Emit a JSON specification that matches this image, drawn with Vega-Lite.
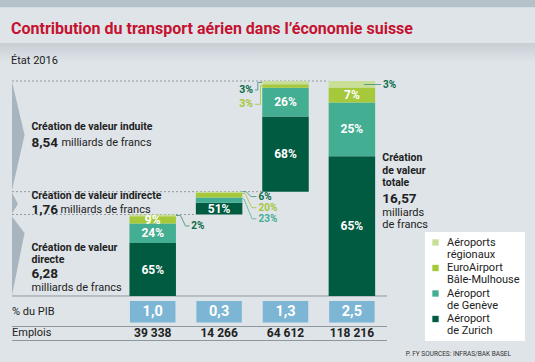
{
"$schema":"https://vega.github.io/schema/vega-lite/v6.json",
"width":535,"height":362,"padding":0,"autosize":{"type":"none"},
"background":"#dfe4e8",
"config":{"view":{"stroke":null},"font":"Liberation Sans Narrow, Roboto, sans-serif","style":{"guide-label":{"lineHeight":12}}},
"title":{"text":"Contribution du transport aérien dans l’économie suisse","subtitle":"État 2016","anchor":"start","frame":"group","orient":"top","offset":-66,"dx":11,"font":"Liberation Sans Narrow, Roboto, sans-serif","fontSize":16,"fontWeight":"bold","color":"#c51230","subtitleFont":"Liberation Sans Narrow, Roboto, sans-serif","subtitleFontSize":11,"subtitleColor":"#222222","subtitlePadding":18},
"datasets":{
"seg":[
{"col":1,"airport":"Aéroport de Zurich","pct":65,"start":0,"end":4.082},
{"col":1,"airport":"Aéroport de Genève","pct":24,"start":4.082,"end":5.589},
{"col":1,"airport":"EuroAirport Bâle-Mulhouse","pct":9,"start":5.589,"end":6.154},
{"col":1,"airport":"Aéroports régionaux","pct":2,"start":6.154,"end":6.28},
{"col":2,"airport":"Aéroport de Zurich","pct":51,"start":6.28,"end":7.178},
{"col":2,"airport":"Aéroport de Genève","pct":23,"start":7.178,"end":7.583},
{"col":2,"airport":"EuroAirport Bâle-Mulhouse","pct":20,"start":7.583,"end":7.935},
{"col":2,"airport":"Aéroports régionaux","pct":6,"start":7.935,"end":8.04},
{"col":3,"airport":"Aéroport de Zurich","pct":68,"start":8.03,"end":13.837},
{"col":3,"airport":"Aéroport de Genève","pct":26,"start":13.837,"end":16.057},
{"col":3,"airport":"EuroAirport Bâle-Mulhouse","pct":3,"start":16.057,"end":16.313},
{"col":3,"airport":"Aéroports régionaux","pct":3,"start":16.313,"end":16.57},
{"col":4,"airport":"Aéroport de Zurich","pct":65,"start":0,"end":10.771},
{"col":4,"airport":"Aéroport de Genève","pct":25,"start":10.771,"end":14.913},
{"col":4,"airport":"EuroAirport Bâle-Mulhouse","pct":7,"start":14.913,"end":16.073},
{"col":4,"airport":"Aéroports régionaux","pct":3,"start":16.073,"end":16.57}
],
"outl":[
{"col":1,"airport":"Aéroports régionaux","text":"2%","lx":1.58,"ly":5.395},
{"col":2,"airport":"Aéroports régionaux","text":"6%","lx":2.593,"ly":7.661},
{"col":2,"airport":"EuroAirport Bâle-Mulhouse","text":"20%","lx":2.593,"ly":6.805},
{"col":2,"airport":"Aéroport de Genève","text":"23%","lx":2.593,"ly":5.95},
{"col":3,"airport":"Aéroports régionaux","text":"3%","lx":2.51,"ly":15.877},
{"col":3,"airport":"EuroAirport Bâle-Mulhouse","text":"3%","lx":2.51,"ly":14.774},
{"col":4,"airport":"Aéroports régionaux","text":"3%","lx":4.468,"ly":16.3}
],
"conn":[
{"id":"c1","airport":"Aéroports régionaux","ord":0,"x":1.351,"y":6.204},
{"id":"c1","airport":"Aéroports régionaux","ord":1,"x":1.4187,"y":6.204},
{"id":"c1","airport":"Aéroports régionaux","ord":2,"x":1.494,"y":5.395},
{"id":"c1","airport":"Aéroports régionaux","ord":3,"x":1.554,"y":5.395},
{"id":"c2r","airport":"Aéroports régionaux","ord":0,"x":2.349,"y":8.046},
{"id":"c2r","airport":"Aéroports régionaux","ord":1,"x":2.405,"y":8.046},
{"id":"c2r","airport":"Aéroports régionaux","ord":2,"x":2.48,"y":7.661},
{"id":"c2r","airport":"Aéroports régionaux","ord":3,"x":2.563,"y":7.661},
{"id":"c2e","airport":"EuroAirport Bâle-Mulhouse","ord":0,"x":2.349,"y":7.9},
{"id":"c2e","airport":"EuroAirport Bâle-Mulhouse","ord":1,"x":2.39,"y":7.9},
{"id":"c2e","airport":"EuroAirport Bâle-Mulhouse","ord":2,"x":2.4955,"y":6.805},
{"id":"c2e","airport":"EuroAirport Bâle-Mulhouse","ord":3,"x":2.563,"y":6.805},
{"id":"c2g","airport":"Aéroport de Genève","ord":0,"x":2.349,"y":7.476},
{"id":"c2g","airport":"Aéroport de Genève","ord":1,"x":2.375,"y":7.476},
{"id":"c2g","airport":"Aéroport de Genève","ord":2,"x":2.4955,"y":5.95},
{"id":"c2g","airport":"Aéroport de Genève","ord":3,"x":2.563,"y":5.95},
{"id":"c3r","airport":"Aéroports régionaux","ord":0,"x":2.646,"y":16.455},
{"id":"c3r","airport":"Aéroports régionaux","ord":1,"x":2.583,"y":16.455},
{"id":"c3r","airport":"Aéroports régionaux","ord":2,"x":2.583,"y":15.877},
{"id":"c3r","airport":"Aéroports régionaux","ord":3,"x":2.5407,"y":15.877},
{"id":"c3e","airport":"EuroAirport Bâle-Mulhouse","ord":0,"x":2.646,"y":16.224},
{"id":"c3e","airport":"EuroAirport Bâle-Mulhouse","ord":1,"x":2.6235,"y":16.224},
{"id":"c3e","airport":"EuroAirport Bâle-Mulhouse","ord":2,"x":2.6235,"y":14.774},
{"id":"c3e","airport":"EuroAirport Bâle-Mulhouse","ord":3,"x":2.5407,"y":14.774},
{"id":"c4r","airport":"Aéroports régionaux","ord":0,"x":4.182,"y":16.3},
{"id":"c4r","airport":"Aéroports régionaux","ord":1,"x":4.438,"y":16.3}
],
"wedge":[
{"part":"induite","x":-1.119,"y":16.53},
{"part":"induite","x":-0.93,"y":12.41},
{"part":"induite","x":-1.119,"y":8.13},
{"part":"indirecte","x":-1.119,"y":7.98},
{"part":"indirecte","x":-1.03,"y":7.09},
{"part":"indirecte","x":-1.119,"y":6.36},
{"part":"directe","x":-1.119,"y":6.13},
{"part":"directe","x":-0.93,"y":4.86},
{"part":"directe","x":-1.119,"y":0.05}
],
"guides":[
{"y":16.57,"x":-1.119,"x2":3.645},
{"y":8.04,"x":-1.119,"x2":2.651},
{"y":6.28,"x":-1.119,"x2":1.652}
],
"table":[
{"col":1,"pib":"1,0","emplois":"39 338"},
{"col":2,"pib":"0,3","emplois":"14 266"},
{"col":3,"pib":"1,3","emplois":"64 612"},
{"col":4,"pib":"2,5","emplois":"118 216"}
],
"heads":[
{"x":-0.8253,"y":13.06,"t":"Création de valeur induite"},
{"x":-0.8253,"y":7.707,"t":"Création de valeur indirecte"},
{"x":-0.8253,"y":3.7,"t":"Création de valeur\ndirecte"},
{"x":4.458,"y":10.598,"t":"Création\nde valeur\ntotale"}
],
"nums":[
{"x":-0.8253,"y":11.83,"t":"8,54"},
{"x":-0.8253,"y":6.628,"t":"1,76"},
{"x":-0.8253,"y":1.672,"t":"6,28"},
{"x":4.458,"y":7.476,"t":"16,57"}
],
"units":[
{"x":-0.375,"y":11.83,"t":"milliards de francs"},
{"x":-0.39,"y":6.628,"t":"milliards de francs"},
{"x":-0.8253,"y":0.593,"t":"milliards de francs"},
{"x":4.458,"y":6.42,"t":"milliards\nde francs"}
]
},
"layer":[
{"data":{"values":[{}]},"mark":{"type":"rect","color":"#b5c1c9"},
 "encoding":{"x":{"datum":-1.2997,"type":"quantitative","scale":{"domain":[-1.2997,6.7575],"nice":false,"zero":false,"padding":0},"axis":null},"x2":{"datum":6.7575},
 "y":{"datum":22.813,"type":"quantitative","scale":{"domain":[-5.087,22.813],"nice":false,"zero":false,"padding":0},"axis":null},"y2":{"datum":22.25}}},
{"data":{"values":[{}]},"mark":{"type":"rect","fill":{"gradient":"linear","x1":0,"y1":0,"x2":0,"y2":1,"stops":[{"offset":0,"color":"#c7cfd5"},{"offset":1,"color":"#dfe4e8"}]}},
 "encoding":{"x":{"datum":-1.2997,"type":"quantitative","scale":{"domain":[-1.2997,6.7575],"nice":false,"zero":false,"padding":0},"axis":null},"x2":{"datum":6.7575},
 "y":{"datum":19.5,"type":"quantitative","scale":{"domain":[-5.087,22.813],"nice":false,"zero":false,"padding":0},"axis":null},"y2":{"datum":18.0}}},
{"data":{"name":"wedge"},"mark":{"type":"area","orient":"horizontal","color":"#a9b5be"},
 "encoding":{"x":{"field":"x","type":"quantitative","scale":{"domain":[-1.2997,6.7575],"nice":false,"zero":false,"padding":0},"axis":null},"x2":{"datum":-1.119},
 "y":{"field":"y","type":"quantitative","scale":{"domain":[-5.087,22.813],"nice":false,"zero":false,"padding":0},"axis":null},"detail":{"field":"part"}}},
{"data":{"name":"guides"},"mark":{"type":"rule","color":"#7b8790","strokeWidth":0.8,"strokeDash":[2,2]},
 "encoding":{"x":{"field":"x","type":"quantitative","scale":{"domain":[-1.2997,6.7575],"nice":false,"zero":false,"padding":0},"axis":null},"x2":{"field":"x2"},
 "y":{"field":"y","type":"quantitative","scale":{"domain":[-5.087,22.813],"nice":false,"zero":false,"padding":0},"axis":null}}},
{"data":{"values":[{"y":0},{"y":-2.351},{"y":-3.43}]},"mark":{"type":"rule","color":"#8e979e","strokeWidth":1},
 "encoding":{"x":{"datum":-1.119,"type":"quantitative","scale":{"domain":[-1.2997,6.7575],"nice":false,"zero":false,"padding":0},"axis":null},"x2":{"datum":4.529},
 "y":{"field":"y","type":"quantitative","scale":{"domain":[-5.087,22.813],"nice":false,"zero":false,"padding":0},"axis":null}}},
{"data":{"name":"seg"},"mark":{"type":"bar","width":46.5},
 "encoding":{"x":{"field":"col","type":"quantitative","scale":{"domain":[-1.2997,6.7575],"nice":false,"zero":false,"padding":0},"axis":null},
 "y":{"field":"start","type":"quantitative","scale":{"domain":[-5.087,22.813],"nice":false,"zero":false,"padding":0},"axis":null},"y2":{"field":"end"},
 "color":{"field":"airport","type":"nominal","scale":{"domain":["Aéroports régionaux","EuroAirport Bâle-Mulhouse","Aéroport de Genève","Aéroport de Zurich"],"range":["#c9df98","#a6c93b","#43ae92","#015b41"]},
  "legend":{"title":null,"orient":"none","legendX":425,"legendY":232,"fillColor":"#ffffff","padding":5,"symbolType":"square","symbolSize":40,"symbolStrokeWidth":0,"symbolOpacity":1,"labelFont":"Liberation Sans Narrow, Roboto, sans-serif","labelFontSize":11,"labelColor":"#222222","labelOffset":6,"rowPadding":1.5,"labelLimit":200,
  "labelExpr":"datum.label == 'Aéroports régionaux' ? ['Aéroports','régionaux'] : datum.label == 'EuroAirport Bâle-Mulhouse' ? ['EuroAirport','Bâle-Mulhouse'] : datum.label == 'Aéroport de Genève' ? ['Aéroport','de Genève'] : ['Aéroport','de Zurich']"}}}},
{"data":{"name":"conn"},"mark":{"type":"line","strokeWidth":0.9},
 "encoding":{"x":{"field":"x","type":"quantitative","scale":{"domain":[-1.2997,6.7575],"nice":false,"zero":false,"padding":0},"axis":null},
 "y":{"field":"y","type":"quantitative","scale":{"domain":[-5.087,22.813],"nice":false,"zero":false,"padding":0},"axis":null},
 "detail":{"field":"id"},"order":{"field":"ord","type":"quantitative"},
 "stroke":{"field":"airport","type":"nominal","scale":{"domain":["Aéroports régionaux","EuroAirport Bâle-Mulhouse","Aéroport de Genève"],"range":["#4d9580","#a9cb45","#5dbb9f"]},"legend":null}}},
{"data":{"name":"seg"},"transform":[{"filter":"datum.col == 2 ? datum.airport == 'Aéroport de Zurich' : datum.pct >= 7"},{"calculate":"(datum.start + datum.end) / 2","as":"mid"},{"calculate":"datum.pct + '%'","as":"lab"}],
 "mark":{"type":"text","color":"#ffffff","fontWeight":"bold","fontSize":12,"baseline":"middle","align":"center"},
 "encoding":{"x":{"field":"col","type":"quantitative","scale":{"domain":[-1.2997,6.7575],"nice":false,"zero":false,"padding":0},"axis":null},
 "y":{"field":"mid","type":"quantitative","scale":{"domain":[-5.087,22.813],"nice":false,"zero":false,"padding":0},"axis":null},"text":{"field":"lab"}}},
{"data":{"name":"outl"},"transform":[{"filter":"datum.col != 3"}],
 "mark":{"type":"text","fontWeight":"bold","fontSize":10,"baseline":"middle","align":"left"},
 "encoding":{"x":{"field":"lx","type":"quantitative","scale":{"domain":[-1.2997,6.7575],"nice":false,"zero":false,"padding":0},"axis":null},
 "y":{"field":"ly","type":"quantitative","scale":{"domain":[-5.087,22.813],"nice":false,"zero":false,"padding":0},"axis":null},"text":{"field":"text"},
 "fill":{"field":"airport","type":"nominal","scale":{"domain":["Aéroports régionaux","EuroAirport Bâle-Mulhouse","Aéroport de Genève"],"range":["#0c6b48","#a3c63a","#45af93"]},"legend":null}}},
{"data":{"name":"outl"},"transform":[{"filter":"datum.col == 3"}],
 "mark":{"type":"text","fontWeight":"bold","fontSize":10.5,"baseline":"middle","align":"right"},
 "encoding":{"x":{"field":"lx","type":"quantitative","scale":{"domain":[-1.2997,6.7575],"nice":false,"zero":false,"padding":0},"axis":null},
 "y":{"field":"ly","type":"quantitative","scale":{"domain":[-5.087,22.813],"nice":false,"zero":false,"padding":0},"axis":null},"text":{"field":"text"},
 "fill":{"field":"airport","type":"nominal","scale":{"domain":["Aéroports régionaux","EuroAirport Bâle-Mulhouse","Aéroport de Genève"],"range":["#0c6b48","#a3c63a","#45af93"]},"legend":null}}},
{"data":{"name":"heads"},"mark":{"type":"text","fontWeight":"bold","fontSize":10.5,"color":"#222222","align":"left","baseline":"middle","lineBreak":"\n","lineHeight":12.5},
 "encoding":{"x":{"field":"x","type":"quantitative","scale":{"domain":[-1.2997,6.7575],"nice":false,"zero":false,"padding":0},"axis":null},
 "y":{"field":"y","type":"quantitative","scale":{"domain":[-5.087,22.813],"nice":false,"zero":false,"padding":0},"axis":null},"text":{"field":"t"}}},
{"data":{"name":"nums"},"mark":{"type":"text","fontWeight":"bold","fontSize":13.5,"color":"#222222","align":"left","baseline":"middle"},
 "encoding":{"x":{"field":"x","type":"quantitative","scale":{"domain":[-1.2997,6.7575],"nice":false,"zero":false,"padding":0},"axis":null},
 "y":{"field":"y","type":"quantitative","scale":{"domain":[-5.087,22.813],"nice":false,"zero":false,"padding":0},"axis":null},"text":{"field":"t"}}},
{"data":{"name":"units"},"mark":{"type":"text","fontSize":11,"color":"#222222","align":"left","baseline":"middle","lineBreak":"\n","lineHeight":12},
 "encoding":{"x":{"field":"x","type":"quantitative","scale":{"domain":[-1.2997,6.7575],"nice":false,"zero":false,"padding":0},"axis":null},
 "y":{"field":"y","type":"quantitative","scale":{"domain":[-5.087,22.813],"nice":false,"zero":false,"padding":0},"axis":null},"text":{"field":"t"}}},
{"data":{"name":"table"},"mark":{"type":"bar","width":45.5,"color":"#7db5d5"},
 "encoding":{"x":{"field":"col","type":"quantitative","scale":{"domain":[-1.2997,6.7575],"nice":false,"zero":false,"padding":0},"axis":null},
 "y":{"datum":-0.385,"type":"quantitative","scale":{"domain":[-5.087,22.813],"nice":false,"zero":false,"padding":0},"axis":null},"y2":{"datum":-2.04}}},
{"data":{"name":"table"},"mark":{"type":"text","color":"#ffffff","fontWeight":"bold","fontSize":14.5,"align":"center","baseline":"middle"},
 "encoding":{"x":{"field":"col","type":"quantitative","scale":{"domain":[-1.2997,6.7575],"nice":false,"zero":false,"padding":0},"axis":null},
 "y":{"datum":-1.21,"type":"quantitative","scale":{"domain":[-5.087,22.813],"nice":false,"zero":false,"padding":0},"axis":null},"text":{"field":"pib"}}},
{"data":{"name":"table"},"mark":{"type":"text","color":"#222222","fontWeight":"bold","fontSize":12,"align":"center","baseline":"middle"},
 "encoding":{"x":{"field":"col","type":"quantitative","scale":{"domain":[-1.2997,6.7575],"nice":false,"zero":false,"padding":0},"axis":null},
 "y":{"datum":-2.882,"type":"quantitative","scale":{"domain":[-5.087,22.813],"nice":false,"zero":false,"padding":0},"axis":null},"text":{"field":"emplois"}}},
{"data":{"values":[{"t":"% du PIB","y":-1.21},{"t":"Emplois","y":-2.882}]},"mark":{"type":"text","color":"#222222","fontSize":11,"align":"left","baseline":"middle"},
 "encoding":{"x":{"datum":-1.119,"type":"quantitative","scale":{"domain":[-1.2997,6.7575],"nice":false,"zero":false,"padding":0},"axis":null},
 "y":{"field":"y","type":"quantitative","scale":{"domain":[-5.087,22.813],"nice":false,"zero":false,"padding":0},"axis":null},"text":{"field":"t"}}},
{"data":{"values":[{"t":"P. FY SOURCES: INFRAS/BAK BASEL"}]},"mark":{"type":"text","color":"#333333","fontSize":6.5,"align":"right","baseline":"middle"},
 "encoding":{"x":{"datum":6.396,"type":"quantitative","scale":{"domain":[-1.2997,6.7575],"nice":false,"zero":false,"padding":0},"axis":null},
 "y":{"datum":-4.432,"type":"quantitative","scale":{"domain":[-5.087,22.813],"nice":false,"zero":false,"padding":0},"axis":null},"text":{"field":"t"}}}
]
}
